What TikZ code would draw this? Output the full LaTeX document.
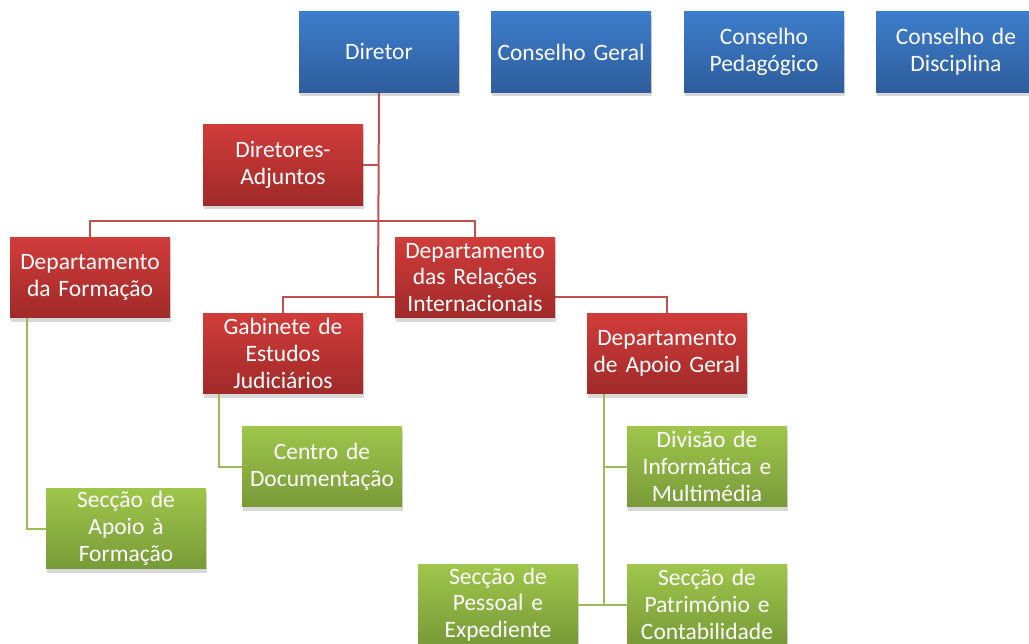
\documentclass[tikz,border=0pt]{standalone}
\usepackage{fontspec}
\setmainfont{Carlito}
\usetikzlibrary{shadows}
\definecolor{bluetop}{HTML}{3D7DCC}
\definecolor{bluebot}{HTML}{2E5D9C}
\definecolor{redtop}{HTML}{D03C3A}
\definecolor{redbot}{HTML}{A02A29}
\definecolor{greentop}{HTML}{9FC64B}
\definecolor{greenbot}{HTML}{789A38}
\definecolor{redline}{HTML}{C0504D}
\definecolor{greenline}{HTML}{9BBB59}
\tikzset{
  orgbox/.style={minimum width=160pt, minimum height=80.5pt, inner sep=0pt,
    text width=158pt, align=center, text=white,
    font=\fontsize{23.5}{26.7}\selectfont,
    drop shadow={shadow xshift=1pt, shadow yshift=-4pt, opacity=0.25, fill=black!60}},
  bluebox/.style={orgbox, top color=bluetop, bottom color=bluebot},
  redbox/.style={orgbox, top color=redtop, bottom color=redbot},
  greenbox/.style={orgbox, top color=greentop, bottom color=greenbot},
  redconn/.style={draw=redline, line width=2pt},
  greenconn/.style={draw=greenline, line width=2pt}
}
\begin{document}
\begin{tikzpicture}[x=1pt,y=-1pt]
\useasboundingbox (0,0) rectangle (1029,644);
\clip (0,0) rectangle (1029,644);
\fill[white] (0,0) rectangle (1029,644);

\coordinate (j1) at (378,221);
\coordinate (j2) at (378,297);

% connectors (red)
\draw[redconn] (379,92) -- (j2);
\draw[redconn] (363,165) -- (378,165);
\draw[redconn] (90,237) -- (90,221) -- (475,221) -- (475,237);
\draw[redconn] (283,313) -- (283,297) -- (667,297) -- (667,313);

% nodes
\node[bluebox] (dir) at (379,52) {Diretor};
\node[bluebox] (cg) at (571,52) {Conselho Geral};
\node[bluebox] (cp) at (764,52) {Conselho\\Pedagógico};
\node[bluebox] (cdis) at (956,52) {Conselho de\\Disciplina};

\node[redbox] (da) at (283,165) {Diretores-\\Adjuntos};
\node[redbox] (df) at (90,277.5) {Departamento\\da Formação};
\node[redbox] (dri) at (475,277.5) {Departamento\\das Relações\\Internacionais};
\node[redbox] (gab) at (283,353.5) {Gabinete de\\Estudos\\Judiciários};
\node[redbox] (dag) at (667,353.5) {Departamento\\de Apoio Geral};

\node[greenbox] (cd) at (322,466.5) {Centro de\\Documentação};
\node[greenbox] (sa) at (126,528.5) {Secção de\\Apoio à\\Formação};
\node[greenbox] (dim) at (707,466.5) {Divisão de\\Informática e\\Multimédia};
\node[greenbox] (spe) at (498,604.5) {Secção de\\Pessoal e\\Expediente};
\node[greenbox] (spc) at (707,604.5) {Secção de\\Património e\\Contabilidade};

% green connectors
\draw[greenconn] ([xshift=17pt]df.south west) |- (sa.west);
\draw[greenconn] ([xshift=16pt]gab.south west) |- (cd.west);
\draw[greenconn] ([xshift=17pt]dag.south west) |- (dim.west);
\draw[greenconn] ([xshift=17pt]dag.south west) |- (spc.west);
\draw[greenconn] (spe.east) -- (spc.west);
\end{tikzpicture}
\end{document}
